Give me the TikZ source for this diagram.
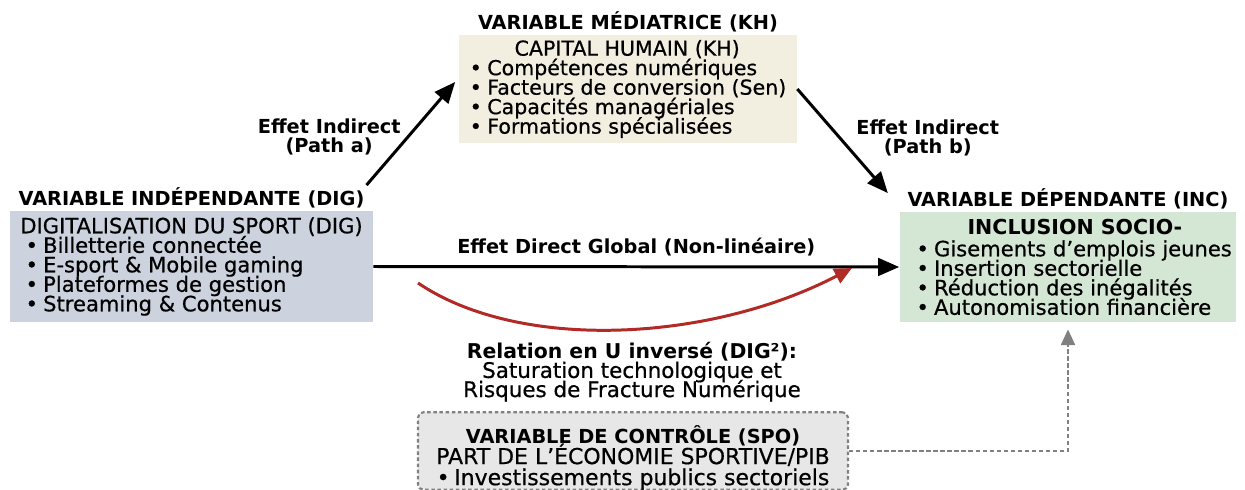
\documentclass[tikz,border=0pt]{standalone}
\usepackage{fontspec}
\setmainfont{DejaVu Sans}[UprightFeatures={FakeBold=0.6}]
\usepackage{tikz}
\usetikzlibrary{shapes,arrows.meta,positioning}
\lineskiplimit=-\maxdimen

\definecolor{digblue}{RGB}{204,211,223}
\definecolor{khbeige}{RGB}{243,239,224}
\definecolor{incgreen}{RGB}{212,230,212}
\definecolor{spogray}{RGB}{231,231,231}
\definecolor{ured}{RGB}{178,42,38}

\newcommand{\bul}{\makebox[10pt][l]{\textbullet}}

\tikzstyle{varbox} = [rectangle, inner sep=0pt, align=left,
font=\fontsize{12}{11.1}\selectfont]
\tikzstyle{vartitle} = [font=\fontsize{11}{11}\selectfont\bfseries, inner sep=1pt]
\tikzstyle{effet} = [font=\fontsize{11}{10.8}\selectfont\bfseries, align=center,
inner sep=1pt]
\tikzstyle{line} = [draw, line width=1.7pt, -{Triangle[length=12pt,width=10pt]}]
\tikzstyle{uline} = [draw=ured, line width=1.7pt, -{Triangle[length=10pt,width=9pt]}]
\tikzstyle{ctrlline} = [draw=gray, line width=1.2pt, dash pattern=on 2.5pt off 1.5pt,
-{Triangle[length=9pt,width=8pt]}]

\begin{document}
\begin{tikzpicture}[x=0.02cm, y=-0.02cm]
    \useasboundingbox (0,0) rectangle (1245,490);
    % Place nodes
    \node [varbox, fill=digblue, minimum width=7.26cm, minimum height=2.22cm] (dig)
    at (191.5,266.5)
    {DIGITALISATION DU SPORT (DIG)\\
    \hspace*{3pt}\bul Billetterie connectée\\
    \hspace*{3pt}\bul E-sport \& Mobile gaming\\
    \hspace*{3pt}\bul Plateformes de gestion\\
    \hspace*{3pt}\bul Streaming \& Contenus};
    \node [vartitle, above=0.5pt of dig] (digtitle) {VARIABLE INDÉPENDANTE (DIG)};
    \node [varbox, fill=khbeige, minimum width=6.76cm, minimum height=2.16cm,
    font=\fontsize{11.7}{11.1}\selectfont] (kh) at (628,89)
    {\makebox[6.3cm]{CAPITAL HUMAIN (KH)}\\
    \bul Compétences numériques\\
    \bul Facteurs de conversion (Sen)\\
    \bul Capacités managériales\\
    \bul Formations spécialisées};
    \node [vartitle, above=0.5pt of kh] (khtitle) {VARIABLE MÉDIATRICE (KH)};
    \node [varbox, fill=incgreen, minimum width=6.74cm, minimum height=2.2cm] (inc)
    at (1068,267)
    {\makebox[6.55cm]{\hspace{8pt}\fontsize{11.7}{11}\selectfont\bfseries INCLUSION SOCIO-}%
    \\[1.5pt]
    \hspace*{7pt}\bul Gisements d’emplois jeunes\\
    \hspace*{7pt}\bul Insertion sectorielle\\
    \hspace*{7pt}\bul Réduction des inégalités\\
    \hspace*{7pt}\bul Autonomisation financière};
    \node [vartitle, above=0.5pt of inc] (inctitle) {VARIABLE DÉPENDANTE (INC)};
    \node [rectangle, draw=gray, fill=spogray, line width=1.2pt,
    dash pattern=on 2pt off 1.5pt, rounded corners=3pt, minimum width=8.6cm,
    minimum height=1.44cm, align=center, inner sep=0pt,
    font=\fontsize{12.5}{12}\selectfont] (spo) at (633,451)
    {\rule{0pt}{17.5pt}{\fontsize{11}{12}\selectfont\bfseries VARIABLE DE CONTRÔLE (SPO)}\\
    PART DE L’ÉCONOMIE SPORTIVE/PIB\\
    \bul Investissements publics sectoriels};
    \node [align=center, font=\fontsize{12.2}{10.9}\selectfont] (urel) at (632,372)
    {{\fontsize{11.6}{10.9}\selectfont\bfseries Relation en U inversé (DIG²):}\\
    Saturation technologique et\\
    Risques de Fracture Numérique};
    \coordinate (ustart) at (418,283);
    \coordinate (uend) at (852,268);

    % Draw edges
    \path [line] (digtitle.north east) -- node [effet, left=4pt, yshift=-2pt]
    {Effet Indirect\\(Path a)} ([shift={(-2pt,4pt)}]kh.west);
    \path [line] (kh.east) -- node [effet, right=6pt, yshift=2pt] {Effet Indirect\\(Path b)}
    ([shift={(-10pt,-4pt)}]inctitle.north west);
    \path [line] (dig.east) -- node [effet, above=4pt]
    {Effet Direct Global (Non-linéaire)} (inc.west);
    \path [uline] (ustart) .. controls (520,352) and (710,342) .. (uend);
    \path [ctrlline] (spo.east) -| ([yshift=-4pt]inc.south);
\end{tikzpicture}
\end{document}
